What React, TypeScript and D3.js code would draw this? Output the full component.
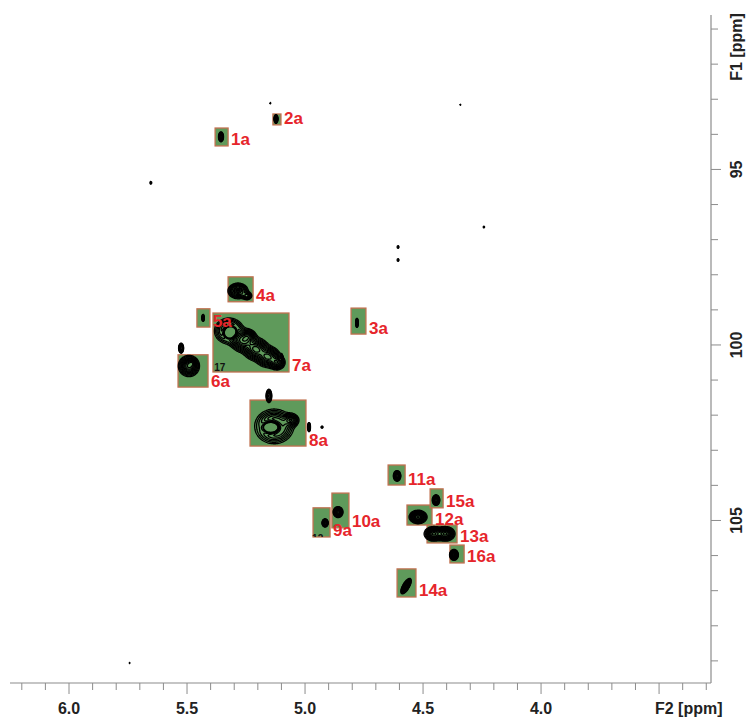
import React, { useMemo } from "react";
import * as d3 from "d3";

const WIDTH = 747;
const HEIGHT = 718;

// axis domains in ppm
const f2Domain: [number, number] = [6.25, 3.28];
const f1Domain: [number, number] = [90.6, 109.63];
const f2MajorTicks = [6.0, 5.5, 5.0, 4.5, 4.0, 3.5];
const f2TickLabels = ["6.0", "5.5", "5.0", "4.5", "4.0", ""];
const f2MinorTicks = [6.2, 6.1, 5.9, 5.8, 5.7, 5.6, 5.4, 5.3, 5.2, 5.1, 4.9, 4.8, 4.7, 4.6, 4.4, 4.3, 4.2, 4.1, 3.9, 3.8, 3.7, 3.6, 3.4, 3.3];
const f1MajorTicks = [95, 100, 105];
const f1TickLabels = ["95", "100", "105"];
const f1MinorTicks = [91, 92, 93, 94, 96, 97, 98, 99, 101, 102, 103, 104, 106, 107, 108, 109];
const f2AxisTitle = "F2 [ppm]";
const f1AxisTitle = "F1 [ppm]";

// assignment boxes
const boxNames = ["1a", "2a", "3a", "4a", "5a", "6a", "7a", "8a", "9a", "10a", "11a", "12a", "13a", "14a", "15a", "16a"];
const boxF2: [number, number][] = [
  [5.381, 5.326], [5.136, 5.102], [4.805, 4.742], [5.326, 5.22], [5.458, 5.403], [5.538, 5.411],
  [5.39, 5.068], [5.233, 4.996], [4.966, 4.894], [4.886, 4.814], [4.648, 4.576], [4.568, 4.462],
  [4.483, 4.356], [4.61, 4.53], [4.47, 4.415], [4.386, 4.326],
];
const boxF1: [number, number][] = [
  [93.82, 94.33], [93.42, 93.73], [98.95, 99.69], [98.06, 98.77], [98.97, 99.49], [100.28, 101.2],
  [99.09, 100.77], [101.57, 102.88], [104.64, 105.47], [104.22, 105.21], [103.42, 103.99], [104.56, 105.13],
  [105.13, 105.64], [106.38, 107.18], [104.1, 104.64], [105.7, 106.21],
];

// cross peaks: [F2 ppm, F1 ppm, half-width F2, half-width F1, intensity, tilt deg]
const crossPeaks: [number, number, number, number, number, number][] = [
  [5.356, 94.07, 0.0106, 0.142, 0.6, 0],
  [5.123, 93.56, 0.0085, 0.128, 0.55, 0],
  [4.78, 99.37, 0.0051, 0.142, 0.55, 0],
  [5.284, 98.46, 0.038, 0.199, 1.0, 0],
  [5.284, 98.46, 0.02, 0.1, -0.8, 0],
  [5.246, 98.6, 0.021, 0.114, 0.5, 0],
  [5.432, 99.23, 0.0042, 0.114, 0.5, 0],
  [5.322, 99.6, 0.055, 0.33, 1.0, 0],
  [5.318, 99.63, 0.03, 0.19, -2.4, 0],
  [5.263, 99.88, 0.05, 0.3, 0.85, 0],
  [5.208, 100.12, 0.05, 0.3, 0.85, 0],
  [5.157, 100.34, 0.048, 0.28, 0.85, 0],
  [5.118, 100.5, 0.032, 0.2, 0.7, 0],
  [5.24, 99.75, 0.03, 0.18, 0.5, 0],
  [5.1, 100.34, 0.0042, 0.085, 0.45, 0],
  [5.492, 100.6, 0.04, 0.27, 1.0, 0],
  [5.478, 100.52, 0.018, 0.12, 0.35, 0],
  [5.525, 100.09, 0.0106, 0.142, 0.6, 0],
  [5.131, 102.32, 0.074, 0.44, 1.0, 0],
  [5.14, 102.34, 0.042, 0.21, -1.7, 0],
  [5.059, 102.14, 0.032, 0.18, 0.6, 0],
  [5.153, 101.45, 0.0127, 0.199, 0.5, 0],
  [4.983, 102.34, 0.0064, 0.142, 0.5, 0],
  [4.928, 102.34, 0.0042, 0.043, 0.25, 0],
  [4.915, 105.07, 0.0127, 0.114, 0.7, 0],
  [4.86, 104.76, 0.019, 0.142, 0.9, 0],
  [4.61, 103.73, 0.0148, 0.142, 0.8, 0],
  [4.521, 104.9, 0.034, 0.171, 1.0, 0],
  [4.455, 105.38, 0.036, 0.185, 1.0, 0],
  [4.405, 105.38, 0.036, 0.185, 1.0, 0],
  [4.572, 106.87, 0.0127, 0.228, 0.9, 30],
  [4.445, 104.42, 0.0148, 0.142, 0.8, 0],
  [4.369, 105.98, 0.017, 0.142, 0.9, 0],
  [5.148, 93.11, 0.0042, 0.04, 0.16, 0],
  [4.343, 93.16, 0.0042, 0.04, 0.15, 0],
  [5.653, 95.38, 0.0042, 0.07, 0.2, 0],
  [4.242, 96.64, 0.0042, 0.05, 0.16, 0],
  [4.606, 97.21, 0.0042, 0.07, 0.2, 0],
  [4.606, 97.58, 0.0042, 0.07, 0.2, 0],
  [5.742, 109.06, 0.0042, 0.04, 0.15, 0],
];

// partly hidden black labels: [text, F2 ppm, F1 ppm (baseline), F1 clip top, F1 clip bottom]
const hiddenLabels: [string, number, number, number, number][] = [
  ["17", 5.385, 100.74, 100.5, 100.77],
  ["12", 4.97, 105.6, 105.2, 105.47],
];

const contourLevels = [0.08, 0.12, 0.17, 0.23, 0.3, 0.38, 0.47, 0.57, 0.68, 0.8, 0.95, 1.12, 1.3];

export default function App() {
  const x = d3.scaleLinear().domain(f2Domain).range([10, 711]);
  const y = d3.scaleLinear().domain(f1Domain).range([15, 683]);

  const contourPaths = useMemo(() => {
    const x0 = 10, y0 = 15, gw = 701, gh = 668;
    const grid = new Float64Array(gw * gh);
    for (const [f2, f1, w2, w1, amp, tilt] of crossPeaks) {
      const cx = x(f2) - x0;
      const cy = y(f1) - y0;
      const sx = Math.max(Math.abs(x(f2 + w2) - x(f2)) / 2, 0.55);
      const sy = Math.max(Math.abs(y(f1 + w1) - y(f1)) / 2, 0.55);
      const th = (tilt * Math.PI) / 180;
      const c = Math.cos(th), s = Math.sin(th);
      const ext = 4 * Math.max(sx, sy) + 2;
      const i0 = Math.max(0, Math.floor(cx - ext)), i1 = Math.min(gw - 1, Math.ceil(cx + ext));
      const j0 = Math.max(0, Math.floor(cy - ext)), j1 = Math.min(gh - 1, Math.ceil(cy + ext));
      for (let j = j0; j <= j1; j++) {
        for (let i = i0; i <= i1; i++) {
          const dx = i + 0.5 - cx, dy = j + 0.5 - cy;
          const u = dx * c + dy * s;
          const v = -dx * s + dy * c;
          grid[j * gw + i] += amp * Math.exp(-((u * u) / (2 * sx * sx) + (v * v) / (2 * sy * sy)));
        }
      }
    }
    const cs = d3.contours().size([gw, gh]).thresholds(contourLevels)(grid as any);
    const path = d3.geoPath();
    return cs.map((c) => path(c as any) || "");
  }, []);

  const font = "'Liberation Sans', Arial, Helvetica, sans-serif";

  return (
    <svg width={WIDTH} height={HEIGHT} style={{ position: "absolute", left: 0, top: 0 }} fontFamily={font}>
      <rect x={0} y={0} width={WIDTH} height={HEIGHT} fill="#ffffff" />
      <defs>
        {hiddenLabels.map((h, i) => (
          <clipPath id={`hclip${i}`} key={i}>
            <rect x={0} y={y(h[3])} width={WIDTH} height={y(h[4]) - y(h[3])} />
          </clipPath>
        ))}
      </defs>
      {/* assignment boxes */}
      {boxNames.map((n, i) => (
        <rect
          key={n}
          x={x(boxF2[i][0])}
          y={y(boxF1[i][0])}
          width={x(boxF2[i][1]) - x(boxF2[i][0])}
          height={y(boxF1[i][1]) - y(boxF1[i][0])}
          fill="#5f9a5b"
          stroke="#c0704f"
          strokeWidth={1.3}
        />
      ))}
      {hiddenLabels.map((h, i) => (
        <text key={i} x={x(h[1])} y={y(h[2])} fontSize={10} fontWeight="bold" fill="#111" clipPath={`url(#hclip${i})`}>
          {h[0]}
        </text>
      ))}
      {/* contours */}
      <g transform="translate(10,15)">
        {contourPaths.map((d, i) => (
          <path key={i} d={d} fill="none" stroke="#000" strokeWidth={1.3} strokeLinejoin="round" />
        ))}
      </g>
      {/* box labels */}
      {boxNames.map((n, i) => (
        <text
          key={n}
          x={x(boxF2[i][1]) + 3}
          y={y(boxF1[i][1]) - 0.5}
          fontSize={17}
          fontWeight="bold"
          fill="#e6252b"
        >
          {n}
        </text>
      ))}
      {/* F2 axis */}
      <g>
        <line x1={10} x2={711} y1={683} y2={683} stroke="#8c8c8c" strokeWidth={1.2} />
        {f2MinorTicks.map((t) => (
          <line key={t} x1={x(t)} x2={x(t)} y1={683} y2={690} stroke="#8c8c8c" strokeWidth={1} />
        ))}
        {f2MajorTicks.map((t, i) => (
          <g key={t}>
            <line x1={x(t)} x2={x(t)} y1={683} y2={694} stroke="#8c8c8c" strokeWidth={1} />
            <text x={x(t)} y={714} textAnchor="middle" fontSize={16} fontWeight="bold" fill="#222">
              {f2TickLabels[i]}
            </text>
          </g>
        ))}
        <text x={655} y={714} fontSize={16} fontWeight="bold" fill="#222">
          {f2AxisTitle}
        </text>
      </g>
      {/* F1 axis */}
      <g>
        <line x1={711} x2={711} y1={15} y2={683} stroke="#8c8c8c" strokeWidth={1.2} />
        {f1MinorTicks.map((t) => (
          <line key={t} x1={711} x2={718} y1={y(t)} y2={y(t)} stroke="#8c8c8c" strokeWidth={1} />
        ))}
        {f1MajorTicks.map((t, i) => (
          <g key={t}>
            <line x1={711} x2={721} y1={y(t)} y2={y(t)} stroke="#8c8c8c" strokeWidth={1} />
            <text
              transform={`translate(742,${y(t)}) rotate(-90)`}
              textAnchor="middle"
              fontSize={16}
              fontWeight="bold"
              fill="#222"
            >
              {f1TickLabels[i]}
            </text>
          </g>
        ))}
        <text transform={`translate(742,47) rotate(-90)`} textAnchor="middle" fontSize={16} fontWeight="bold" fill="#222">
          {f1AxisTitle}
        </text>
      </g>
    </svg>
  );
}
